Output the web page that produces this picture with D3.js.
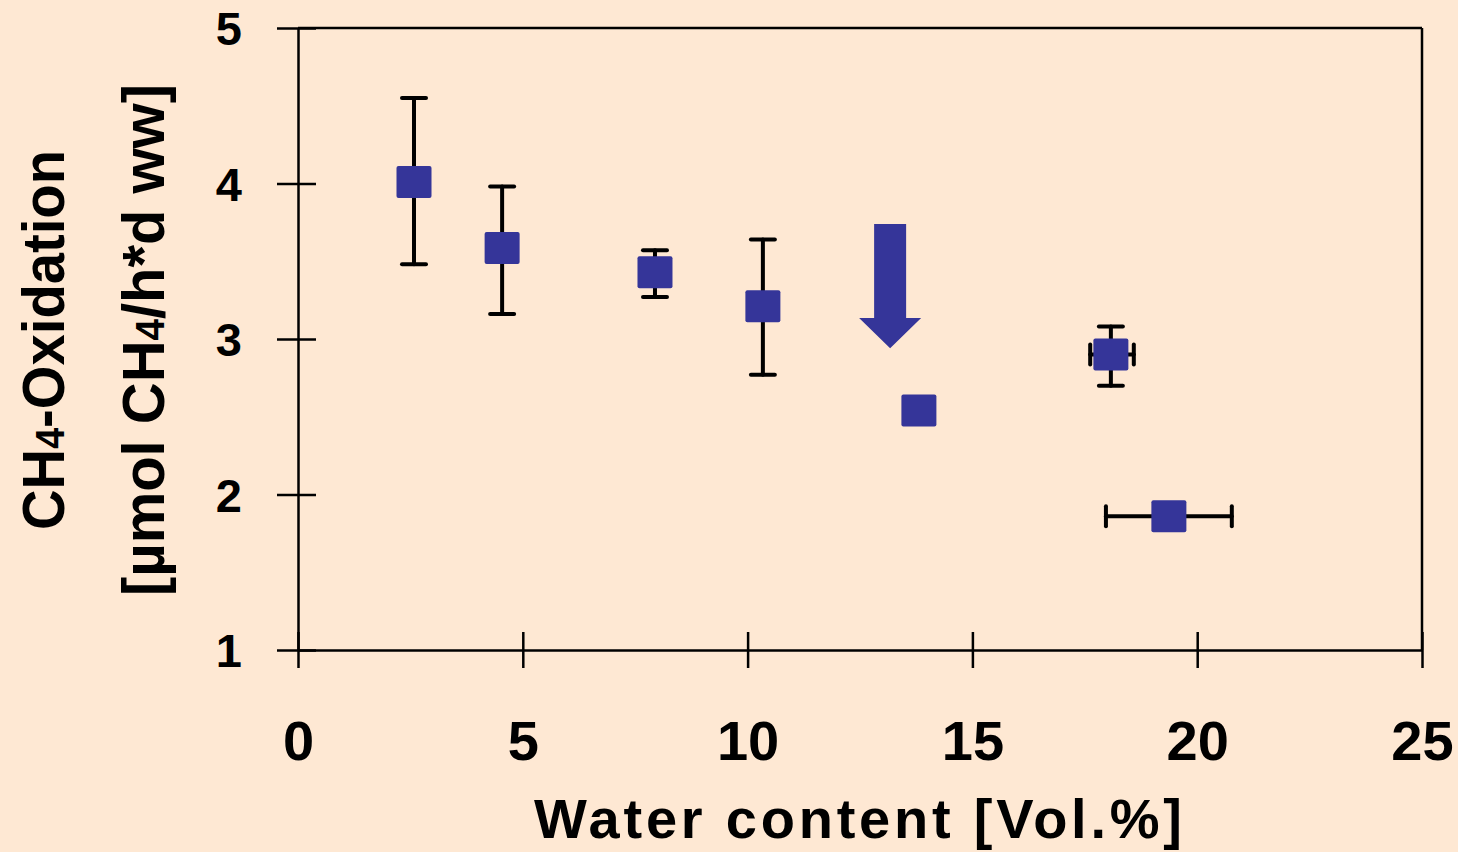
<!DOCTYPE html>
<html>
<head>
<meta charset="utf-8">
<script src="https://cdn.jsdelivr.net/npm/d3@7"></script>
<style>
  html, body { margin: 0; padding: 0; background: #fee8d3; }
  svg { display: block; }
</style>
</head>
<body>
<svg id="chart" width="1458" height="852"></svg>
<script>
// measured points: water content [Vol.%] vs CH4 oxidation
const waterContent = [2.58, 4.54, 7.94, 10.34, 13.81, 18.08, 19.37]
const oxidation    = [4.01, 3.585, 3.43, 3.21, 2.54, 2.90, 1.86]
const oxLow        = [3.48, 3.16, 3.27, 2.77, null, 2.70, null]
const oxHigh       = [4.55, 3.98, 3.57, 3.64, null, 3.08, null]
const waterLow     = [null, null, null, null, null, 17.62, 17.97]
const waterHigh    = [null, null, null, null, null, 18.59, 20.77]

const xTicks = [0, 5, 10, 15, 20, 25]
const yTicks = [1, 2, 3, 4, 5]

// annotation arrow (data units): x, top of shaft, start of head, tip
const arrowAt = {x: 13.17, top: 3.74, head: 3.135, tip: 2.94}

const plotLeft = 298, plotRight = 1422, plotTop = 28, plotBottom = 650
const ink = '#000'
const markerFill = '#353599'

let svg = d3.select('#chart')

let x = d3.scaleLinear().domain([0, 25]).range([plotLeft, plotRight])
let y = d3.scaleLinear().domain([1, 5]).range([plotBottom, plotTop])

// frame top + right
svg.append('line')
  .attr('x1', plotLeft).attr('x2', plotRight).attr('y1', plotTop).attr('y2', plotTop)
  .attr('stroke', ink).attr('stroke-width', 2.5)
svg.append('line')
  .attr('x1', plotRight).attr('x2', plotRight).attr('y1', plotTop).attr('y2', plotBottom)
  .attr('stroke', ink).attr('stroke-width', 2.5)

// x axis, ticks cross the line
let gx = svg.append('g')
  .attr('transform', `translate(0,${plotBottom})`)
  .call(d3.axisBottom(x).tickValues(xTicks).tickSizeOuter(0).tickFormat(d3.format('d')))
gx.select('.domain').attr('stroke', ink).attr('stroke-width', 2.5)
gx.selectAll('.tick line').attr('y1', -18).attr('y2', 18).attr('stroke', ink).attr('stroke-width', 2.5)
gx.selectAll('.tick text')
  .attr('y', 110).attr('dy', 0)
  .attr('fill', ink)
  .style('font-family', '"Liberation Sans", Arial, sans-serif')
  .style('font-weight', 'bold')
  .style('font-size', '56px')

// y axis
let gy = svg.append('g')
  .attr('transform', `translate(${plotLeft},0)`)
  .call(d3.axisLeft(y).tickValues(yTicks).tickSizeOuter(0).tickFormat(d3.format('d')))
gy.select('.domain').attr('stroke', ink).attr('stroke-width', 2.5)
gy.selectAll('.tick line').attr('x1', -21).attr('x2', 18).attr('stroke', ink).attr('stroke-width', 2.5)
gy.selectAll('.tick text')
  .attr('x', -56).attr('dy', '0.36em')
  .attr('fill', ink)
  .style('font-family', '"Liberation Sans", Arial, sans-serif')
  .style('font-weight', 'bold')
  .style('font-size', '47px')

// error bars
let errG = svg.append('g')
  .attr('stroke', ink).attr('stroke-width', 4).attr('stroke-linecap', 'round')
let capHalf = 12

waterContent.forEach((wc, i) => {
  if (oxLow[i] != null) {
    errG.append('line')
      .attr('x1', x(wc)).attr('x2', x(wc))
      .attr('y1', y(oxLow[i])).attr('y2', y(oxHigh[i]))
    ;[oxLow[i], oxHigh[i]].forEach(v => {
      errG.append('line')
        .attr('x1', x(wc) - capHalf).attr('x2', x(wc) + capHalf)
        .attr('y1', y(v)).attr('y2', y(v))
    })
  }
  if (waterLow[i] != null) {
    errG.append('line')
      .attr('x1', x(waterLow[i])).attr('x2', x(waterHigh[i]))
      .attr('y1', y(oxidation[i])).attr('y2', y(oxidation[i]))
    ;[waterLow[i], waterHigh[i]].forEach(v => {
      errG.append('line')
        .attr('x1', x(v)).attr('x2', x(v))
        .attr('y1', y(oxidation[i]) - 10).attr('y2', y(oxidation[i]) + 10)
    })
  }
})

// square markers
let mw = 35, mh = 32
svg.append('g').selectAll('rect')
  .data(waterContent.map((wc, i) => ({wc, ox: oxidation[i]})))
  .join('rect')
  .attr('x', d => x(d.wc) - mw / 2)
  .attr('y', d => y(d.ox) - mh / 2)
  .attr('width', mw).attr('height', mh)
  .attr('rx', 2)
  .attr('fill', markerFill)

// arrow
let ax = x(arrowAt.x), shaftHalf = 16, headHalf = 31
let arrowPts = [
  [ax - shaftHalf, y(arrowAt.top)],
  [ax + shaftHalf, y(arrowAt.top)],
  [ax + shaftHalf, y(arrowAt.head)],
  [ax + headHalf, y(arrowAt.head)],
  [ax, y(arrowAt.tip)],
  [ax - headHalf, y(arrowAt.head)],
  [ax - shaftHalf, y(arrowAt.head)]
]
svg.append('polygon')
  .attr('points', arrowPts.map(p => p.join(',')).join(' '))
  .attr('fill', markerFill)

// x title
svg.append('text')
  .attr('x', 858).attr('y', 838)
  .attr('text-anchor', 'middle')
  .attr('textLength', 648).attr('lengthAdjust', 'spacing')
  .attr('fill', ink)
  .style('font-family', '"Liberation Sans", Arial, sans-serif')
  .style('font-weight', 'bold')
  .style('font-size', '56px')
  .text('Water content [Vol.%]')

// y title, two lines
let yTitle = (cx, len, parts) => {
  let t = svg.append('text')
    .attr('transform', `translate(${cx},340) rotate(-90)`)
    .attr('text-anchor', 'middle')
    .attr('textLength', len).attr('lengthAdjust', 'spacingAndGlyphs')
    .attr('fill', ink)
    .style('font-family', '"Liberation Sans", Arial, sans-serif')
    .style('font-weight', 'bold')
    .style('font-size', '60px')
  parts.forEach(p => {
    t.append('tspan')
      .style('font-size', p.sub ? '40px' : null)
      .text(p.s)
  })
}
yTitle(64, 380, [{s: 'CH'}, {s: '4', sub: true}, {s: '-Oxidation'}])
yTitle(164, 512, [{s: '[µmol CH'}, {s: '4', sub: true}, {s: '/h*d ww]'}])
</script>
</body>
</html>
